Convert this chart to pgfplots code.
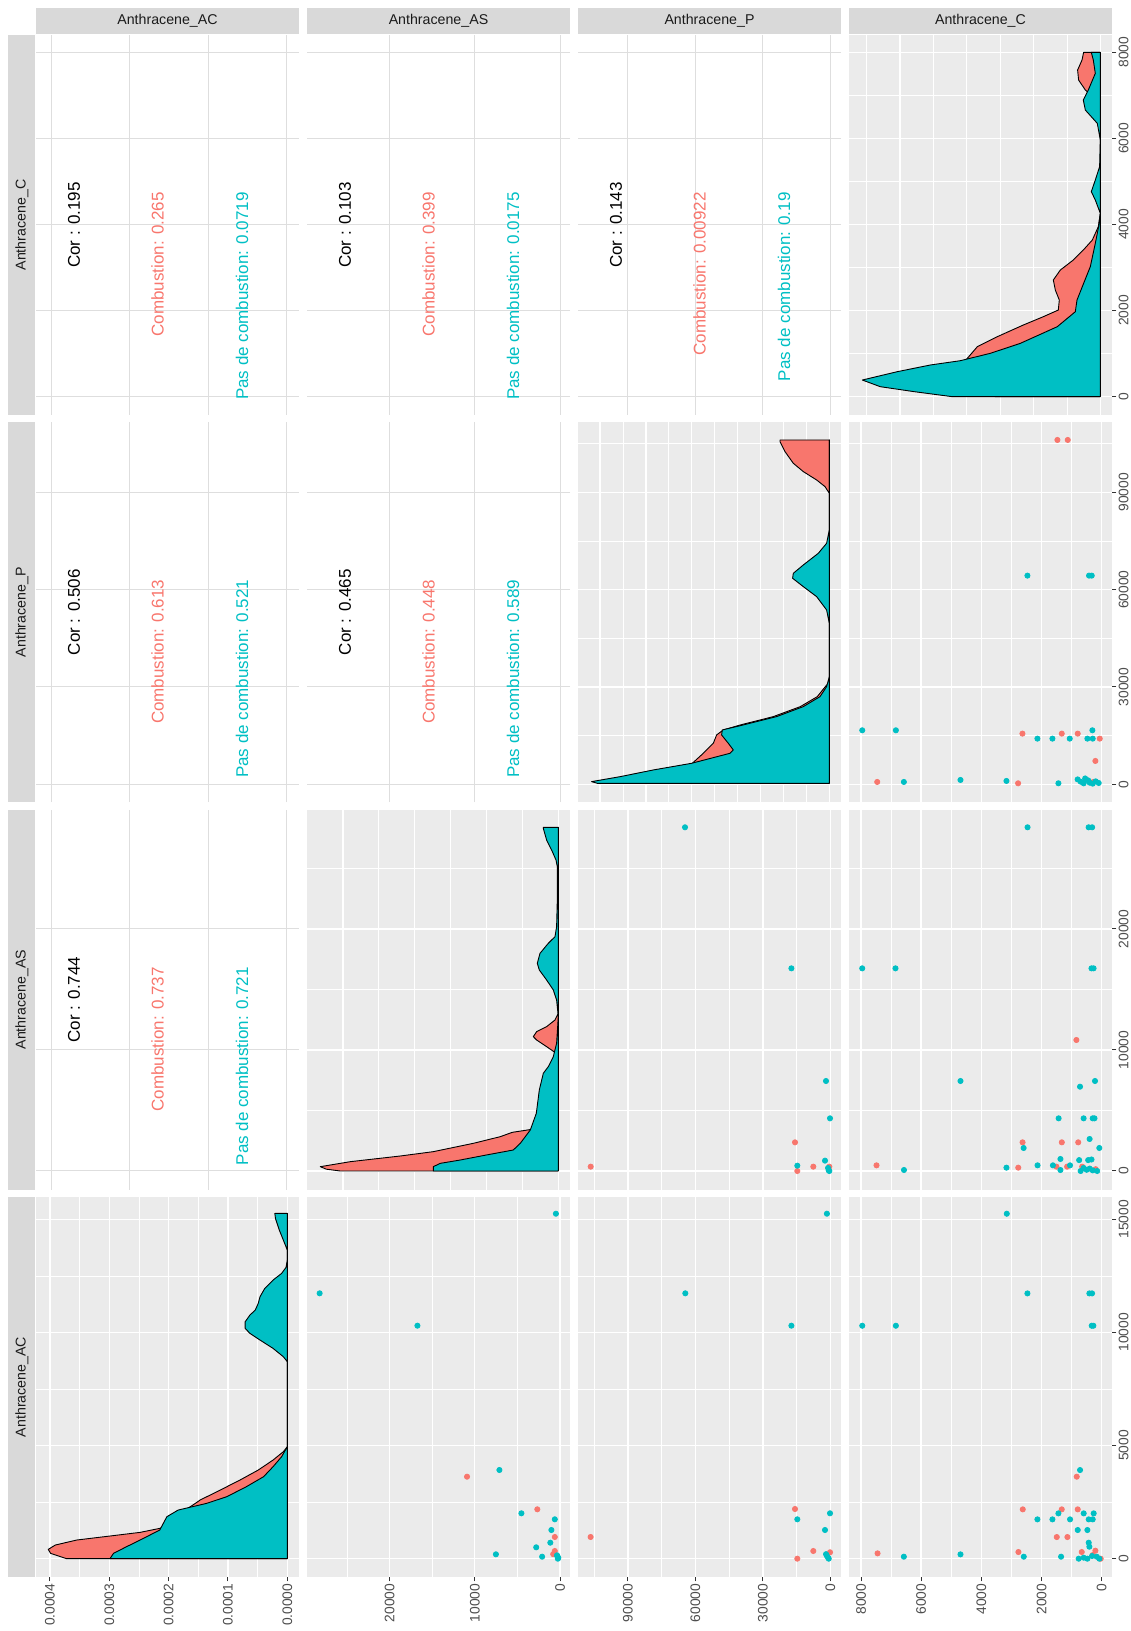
\documentclass[border=0pt]{standalone}
\usepackage{fontspec}
\setmainfont{Liberation Sans}
\usepackage{pgfplots}
\pgfplotsset{compat=1.18}

\definecolor{ggred}{HTML}{F8766D}
\definecolor{ggteal}{HTML}{00BFC4}
\definecolor{ggbg}{HTML}{EBEBEB}
\definecolor{ggstrip}{HTML}{D9D9D9}
\definecolor{ggtext}{HTML}{1A1A1A}
\definecolor{ggtick}{HTML}{4D4D4D}
\definecolor{ggtickc}{HTML}{333333}
\definecolor{ggcorgrid}{HTML}{DEDEDE}

\newcommand{\stripfont}{\fontsize{7.1}{8.5}\selectfont}
\newcommand{\corfont}{\fontsize{8.5}{10}\selectfont}
\newcommand{\tickfont}{\fontsize{6.9}{8}\selectfont}

% panel geometry (pt): column left edges 18, 153.5, 289, 424.5; row bottoms 608, 414.35, 220.65, 27
\pgfplotsset{
  gg/.style={scale only axis, width=131.5pt, height=190pt, anchor=south west,
    x dir=reverse, axis line style={draw=none}, scaled ticks=false,
    major tick length=0pt, minor tick length=0pt,
    xticklabels={}, yticklabels={}},
  ggpanel/.style={gg, axis background/.style={fill=ggbg}, grid=both,
    major grid style={white, line width=0.7pt},
    minor grid style={white, line width=0.35pt}},
  ggcor/.style={gg, grid=major, major grid style={ggcorgrid, line width=0.5pt}},
  % variable scales
  xAC/.style={xmin=-809, xmax=15986, xtick={0,5000,10000,15000}, minor xtick={2500,7500,12500}},
  yAC/.style={ymin=-809, ymax=15986, ytick={0,5000,10000,15000}, minor ytick={2500,7500,12500}},
  xAS/.style={xmin=-1173, xmax=29683, xtick={0,10000,20000}, minor xtick={5000,15000,25000}},
  yAS/.style={ymin=-1545, ymax=29860, ytick={0,10000,20000}, minor ytick={5000,15000,25000}},
  xP/.style={xmin=-4756, xmax=112133, xtick={0,30000,60000,90000}, minor xtick={15000,45000,75000,105000}},
  yP/.style={ymin=-5548, ymax=111578, ytick={0,30000,60000,90000}, minor ytick={15000,45000,75000,105000}},
  xC/.style={xmin=-342, xmax=8399, xtick={0,2000,4000,6000,8000}, minor xtick={1000,3000,5000,7000}},
  yC/.style={ymin=-425, ymax=8402, ytick={0,2000,4000,6000,8000}, minor ytick={1000,3000,5000,7000}},
  xD1/.style={xmin=-0.0000197, xmax=0.0004236, xtick={0,0.0001,0.0002,0.0003,0.0004},
    minor xtick={0.00005,0.00015,0.00025,0.00035}},
  xD/.style={xmin=-11.7, xmax=251.3},
  dens/.style={draw=black, line width=0.45pt, line join=round},
  pts/.style={only marks, mark=*, mark size=1.3pt, mark options={draw=none}},
  % edge ticks
  edge/.style={scale only axis, width=131.5pt, height=190pt, anchor=south west,
    axis line style={draw=none}, scaled ticks=false, tick align=outside,
    major tick length=2.15pt, minor tick length=0pt,
    tick style={color=ggtickc, line width=0.5pt}},
  bot/.style={edge, x dir=reverse, ymin=0, ymax=1, ytick=\empty, xtick pos=left,
    xticklabel style={rotate=90, anchor=east, font=\tickfont, text=ggtick, inner sep=1pt}},
  rgt/.style={edge, xmin=0, xmax=1, xtick=\empty, ytick pos=right, yticklabel pos=right,
    yticklabel style={rotate=90, anchor=north, font=\tickfont, text=ggtick, inner sep=1pt}},
}

\newcommand{\cortext}[6]{%
  \node[rotate=90, inner sep=0pt, font=\corfont, text=black] at ({#1pt+19pt},{#2pt}) {Cor : #4};
  \node[rotate=90, anchor=east, inner sep=0pt, font=\corfont, text=ggred] at ({#1pt+60.75pt},{#3pt-78.5pt}) {Combustion: #5};
  \node[rotate=90, anchor=east, inner sep=0pt, font=\corfont, text=ggteal] at ({#1pt+103pt},{#3pt-78.5pt}) {Pas de combustion: #6};
}

\begin{document}
\begin{tikzpicture}
\path[use as bounding box] (0pt,0pt) rectangle (565pt,815.5pt);

% ---------------- row 1 : Anthracene_C ----------------
\begin{axis}[ggcor, xAC, yC, at={(18pt,608pt)}] \end{axis}
\begin{axis}[ggcor, xAS, yC, at={(153.5pt,608pt)}] \end{axis}
\begin{axis}[ggcor, xP, yC, at={(289pt,608pt)}] \end{axis}
\begin{axis}[ggpanel, xD, yC, at={(424.5pt,608pt)},
  xtick={0,66.8,133.6,200.4}, minor xtick={33.4,100.2,167,233.8}]
\addplot[dens, fill=ggred] coordinates {
  (0,0) (105,0) (125,300) (135,600) (135,836) (123,1161) (103,1394) (77,1665)
  (57,1858) (42,2013) (41,2245) (45,2478) (47,2710) (40,2942) (27,3175) (17,3407)
  (8,3639) (2,3949) (0,4259) (0,6400) (4,6800) (9,7007) (15,7124) (21.7,7356)
  (22.7,7588) (18.3,7820) (16.7,7998) (0,7998) (0,0)};
\addplot[dens, fill=ggteal] coordinates {
  (0,0) (148,0) (186,116) (220,232) (238,387) (203,581) (170,736) (140,836)
  (110,1007) (80,1239) (43,1626) (25,1974) (23.3,2245) (16.7,2632) (10,3020)
  (5,3562) (1.7,3949) (0,4259) (5,4568) (9,4762) (5,5033) (0.7,5343) (0,5962)
  (3,6349) (15,6659) (17,6891) (12,7124) (5,7511) (7,7820) (9,7998) (0,7998) (0,0)};
\end{axis}

% ---------------- row 2 : Anthracene_P ----------------
\begin{axis}[ggcor, xAC, yP, at={(18pt,414.35pt)}] \end{axis}
\begin{axis}[ggcor, xAS, yP, at={(153.5pt,414.35pt)}] \end{axis}
\begin{axis}[ggpanel, xD, yP, at={(289pt,414.35pt)},
  xtick={0,45.9,91.7,137.6,183.4,229.3}, minor xtick={22.9,68.8,114.7,160.5,206.4}]
\addplot[dens, fill=ggred] coordinates {
  (0,300) (95,300) (105,2000) (118,4400) (137,6473) (126,9555) (116,12637)
  (112.7,15205) (106,16746) (89,18288) (56,20856) (29,23938) (12,27020) (4,30103)
  (0,31500) (0,89692) (4.3,91746) (12.7,93801) (26,96370) (36,98938) (44.3,102534)
  (49.3,105616) (49.3,106130) (0,106130) (0,300)};
\addplot[dens, fill=ggteal] coordinates {
  (0,300) (232,300) (237.7,822) (209,2363) (176,4418) (137.7,6473) (99.3,9555)
  (96,10582) (101,12637) (107.7,15205) (107,16746) (86,18288) (52.7,20856)
  (26,23938) (9.3,27020) (2.7,30103) (0,33185) (0,49623) (2.7,53733) (12.7,57842)
  (26,60925) (36.7,63493) (36,65034) (26,67603) (11,71199) (2.7,74281) (0,78391)
  (0,106130) (0,300)};
\end{axis}
\begin{axis}[ggpanel, xC, yP, at={(424.5pt,414.35pt)}]
\addplot[pts, ggred] coordinates {
  (1472,106130) (1129,106130) (2635,15616) (1328,15616) (797,15616) (66,14075)
  (210,7192) (7461,719) (2779,308) (277,719)};
\addplot[pts, ggteal] coordinates {
  (2469,64315) (421,64315) (332,64315) (7959,16644) (6841,16644) (310,16644)
  (2137,14075) (1638,14075) (1063,14075) (476,14075) (299,14075) (6576,719)
  (4694,1336) (3166,1027) (1439,308) (800,1500) (700,800) (600,300) (450,1200)
  (400,500) (300,200) (200,900) (100,400) (550,1800)};
\end{axis}

% ---------------- row 3 : Anthracene_AS ----------------
\begin{axis}[ggcor, xAC, yAS, at={(18pt,220.65pt)}] \end{axis}
\begin{axis}[ggpanel, xD, yAS, at={(153.5pt,220.65pt)},
  xtick={0,71.8,143.6,215.4}, minor xtick={35.9,107.7,179.5}]
\addplot[dens, fill=ggred] coordinates {
  (0,0) (218,0) (232,150) (238,358) (208,771) (158,1240) (125,1598) (85,2287)
  (58,2838) (46,3196) (26,3450) (18,4200) (10,5500) (5,7000) (2,8800) (2,9725)
  (11.7,10276) (21.7,10827) (25,11102) (21.7,11516) (11.7,11929) (3.3,12480)
  (0,13031) (0,28404) (0,0)};
\addplot[dens, fill=ggteal] coordinates {
  (0,0) (125,0) (125,358) (118,634) (98,909) (72,1322) (45,1736) (38,2287)
  (28,3389) (22,4766) (19,6695) (15,8072) (10,8623) (5,9450) (1.7,10552) (0,12756)
  (1.7,14133) (5,14960) (11.7,15786) (19,16613) (21,17164) (18.3,17990) (10,18817)
  (3.3,19368) (1.7,20195) (1,22398) (1,25152) (2.3,25703) (6.7,26530) (11.7,27357)
  (15,28321) (15,28404) (0,28404) (0,0)};
\end{axis}
\begin{axis}[ggpanel, xP, yAS, at={(289pt,220.65pt)}]
\addplot[pts, ggred] coordinates {
  (15689,2369) (14667,0) (106489,358) (7556,358) (444,358)};
\addplot[pts, ggteal] coordinates {
  (64578,28405) (17289,16749) (1911,7438) (133,4353) (14667,441) (2356,854)
  (1000,250) (700,50) (440,0)};
\end{axis}
\begin{axis}[ggpanel, xC, yAS, at={(424.5pt,220.65pt)}]
\addplot[pts, ggred] coordinates {
  (841,10826) (2631,2369) (1326,2369) (781,2369) (2774,275) (1505,358) (1150,358)
  (650,358) (7485,468) (200,150)};
\addplot[pts, ggteal] coordinates {
  (2465,28405) (435,28405) (319,28405) (7960,16749) (6854,16749) (340,16749)
  (270,16749) (4694,7438) (223,7438) (721,6967) (1432,4353) (601,4353) (300,4353)
  (240,4353) (402,2645) (2595,1901) (80,1901) (1372,992) (750,900) (450,900)
  (340,950) (3166,275) (2133,468) (1621,468) (1053,468) (1372,80) (6572,83)
  (700,0) (500,100) (300,50) (150,0) (600,250) (400,200)};
\end{axis}

% ---------------- row 4 : Anthracene_AC ----------------
\begin{axis}[ggpanel, xD1, yAC, at={(18pt,27pt)}]
\addplot[dens, fill=ggred] coordinates {
  (0,0) (0.000372,0) (0.000399,236) (0.000403,412) (0.000391,604) (0.000355,825)
  (0.000299,1002) (0.000248,1164) (0.000215,1340) (0.000185,1600) (0.000176,1900)
  (0.000172,2150) (0.000155,2445) (0.000147,2592) (0.000113,3034) (0.0000798,3476)
  (0.000049,3918) (0.000024,4360) (0.0000067,4728) (0,4949) (0,15260) (0,0)};
\addplot[dens, fill=ggteal] coordinates {
  (0,0) (0.000299,0) (0.000293,236) (0.000271,530) (0.000248,825) (0.000226,1120)
  (0.000215,1267) (0.000209,1561) (0.000203,1856) (0.000184,2150) (0.000136,2445)
  (0.000102,2740) (0.000069,3182) (0.000040,3624) (0.000024,4065) (0.0000096,4507)
  (0,4949) (0,8705) (0.0000067,8926) (0.000024,9295) (0.000046,9663) (0.000063,9957)
  (0.000071,10178) (0.000071,10473) (0.000063,10768) (0.000054,10989)
  (0.000049,11283) (0.000046,11578) (0.000038,11946) (0.000024,12314)
  (0.0000096,12609) (0.0000022,12874) (0,13198) (0,13640) (0.0000067,14082)
  (0.0000135,14524) (0.000020,15039) (0.000021,15260) (0,15260) (0,0)};
\end{axis}
\begin{axis}[ggpanel, xAS, yAC, at={(153.5pt,27pt)}]
\addplot[pts, ggred] coordinates {
  (10909,3624) (2663,2183) (610,959) (610,340) (800,200)};
\addplot[pts, ggteal] coordinates {
  (480,15247) (28200,11729) (16727,10298) (7108,3920) (4528,2006) (610,1741)
  (1009,1268) (1138,707) (2792,503) (7519,194) (2100,88) (300,100) (200,40)
  (350,150) (250,0)};
\end{axis}
\begin{axis}[ggpanel, xP, yAC, at={(289pt,27pt)}]
\addplot[pts, ggred] coordinates {
  (15689,2196) (7556,340) (133,283) (14667,0) (106533,959)};
\addplot[pts, ggteal] coordinates {
  (1511,15247) (64444,11729) (17289,10298) (133,2006) (14667,1741) (2356,1268)
  (1900,200) (1000,50) (1500,120) (700,0)};
\end{axis}
\begin{axis}[ggpanel, xC, yAC, at={(424.5pt,27pt)}]
\addplot[pts, ggred] coordinates {
  (830,3624) (2624,2180) (1328,2180) (797,2180) (1494,957) (1140,957) (7450,236)
  (2768,295) (664,295) (210,354) (299,162) (33,0)};
\addplot[pts, ggteal] coordinates {
  (3155,15246) (2469,11725) (410,11725) (321,11725) (7959,10296) (6841,10296)
  (332,10296) (277,10296) (720,3918) (1439,2003) (598,2003) (266,2003) (2137,1738)
  (1638,1738) (1052,1738) (432,1738) (299,1738) (797,1267) (476,1267) (432,707)
  (410,530) (6576,88) (4694,191) (2590,88) (1351,88) (765,0) (598,44) (476,0)
  (321,118) (77,0) (166,88)};
\end{axis}

% ---------------- edge ticks ----------------
\begin{axis}[bot, xD1, at={(18pt,27pt)},
  xticklabels={0.0000,0.0001,0.0002,0.0003,0.0004}] \end{axis}
\begin{axis}[bot, xAS, at={(153.5pt,27pt)}, xticklabels={0,10000,20000}] \end{axis}
\begin{axis}[bot, xP, at={(289pt,27pt)}, xticklabels={0,30000,60000,90000}] \end{axis}
\begin{axis}[bot, xC, at={(424.5pt,27pt)}, xticklabels={0,2000,4000,6000,8000}] \end{axis}
\begin{axis}[rgt, yC, at={(424.5pt,608pt)}, yticklabels={0,2000,4000,6000,8000}] \end{axis}
\begin{axis}[rgt, yP, at={(424.5pt,414.35pt)}, yticklabels={0,30000,60000,90000}] \end{axis}
\begin{axis}[rgt, yAS, at={(424.5pt,220.65pt)}, yticklabels={0,10000,20000}] \end{axis}
\begin{axis}[rgt, yAC, at={(424.5pt,27pt)}, yticklabels={0,5000,10000,15000}] \end{axis}

% ---------------- strips ----------------
\foreach \xl/\lab in {18/AC, 153.5/AS, 289/P, 424.5/C} {
  \fill[ggstrip] (\xl pt,798.7pt) rectangle ({\xl pt+131.5pt},811.5pt);
  \node[font=\stripfont, text=ggtext, inner sep=0pt] at ({\xl pt+65.75pt},805.1pt) {Anthracene\_\lab};
}
\foreach \yb/\lab in {608/C, 414.35/P, 220.65/AS, 27/AC} {
  \fill[ggstrip] (4.2pt,\yb pt) rectangle (17.7pt,{\yb pt+190pt});
  \node[rotate=90, font=\stripfont, text=ggtext, inner sep=0pt] at (10.95pt,{\yb pt+95pt}) {Anthracene\_\lab};
}

% ---------------- correlation texts ----------------
\cortext{18}{703}{798}{0.195}{0.265}{0.0719}
\cortext{153.5}{703}{798}{0.103}{0.399}{0.0175}
\cortext{289}{703}{798}{0.143}{0.00922}{0.19}
\cortext{18}{509.35}{604.35}{0.506}{0.613}{0.521}
\cortext{153.5}{509.35}{604.35}{0.465}{0.448}{0.589}
\cortext{18}{315.65}{410.65}{0.744}{0.737}{0.721}

\end{tikzpicture}
\end{document}
